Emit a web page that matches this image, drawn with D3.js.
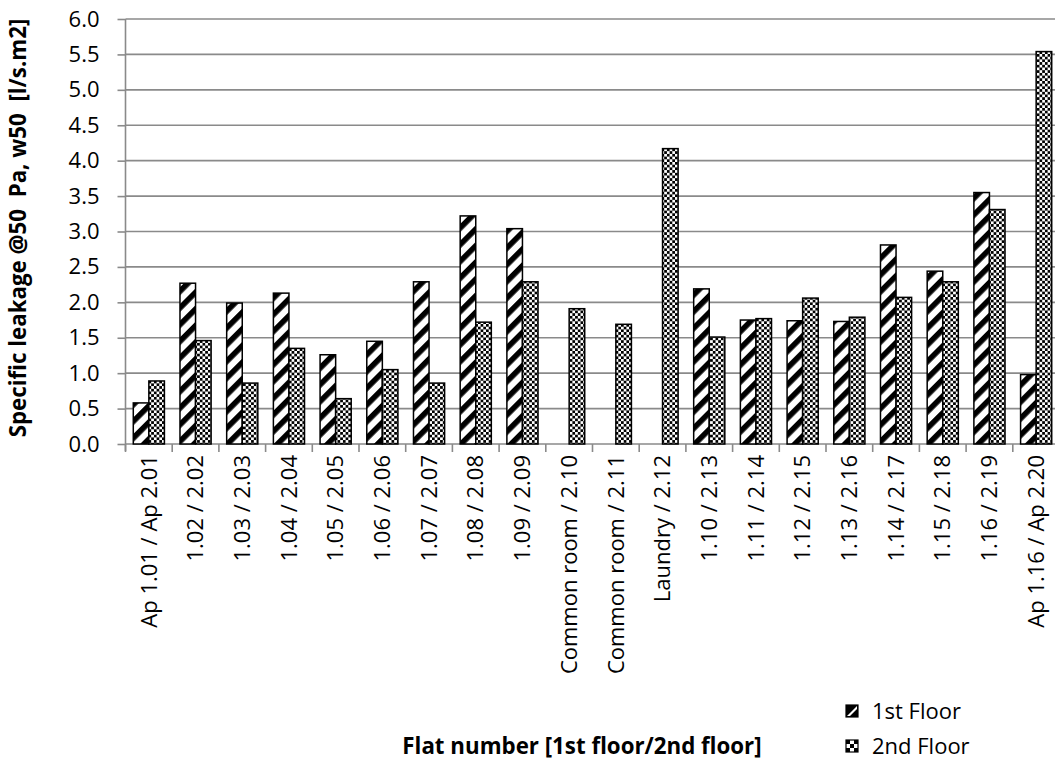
<!DOCTYPE html>
<html><head><meta charset="utf-8">
<script src="https://cdn.jsdelivr.net/npm/d3@7"></script>
<style>
html,body{margin:0;padding:0;background:#fff;}
svg{display:block;font-family:"Open Sans",sans-serif;}
</style></head>
<body>
<svg id="chart" width="1055" height="760"></svg>
<script>
const categories = ["Ap 1.01 / Ap 2.01","1.02 / 2.02","1.03 / 2.03","1.04 / 2.04","1.05 / 2.05","1.06 / 2.06","1.07 / 2.07","1.08 / 2.08","1.09 / 2.09","Common room / 2.10","Common room / 2.11","Laundry / 2.12","1.10 / 2.13","1.11 / 2.14","1.12 / 2.15","1.13 / 2.16","1.14 / 2.17","1.15 / 2.18","1.16 / 2.19","Ap 1.16 / Ap 2.20"];
const firstFloor  = [0.58,2.27,1.99,2.13,1.26,1.45,2.29,3.22,3.04,null,null,null,2.19,1.75,1.74,1.73,2.81,2.44,3.55,0.98];
const secondFloor = [0.89,1.46,0.86,1.35,0.64,1.05,0.86,1.72,2.29,1.91,1.69,4.17,1.51,1.77,2.06,1.79,2.07,2.29,3.31,5.54];
const yTicks = [0,0.5,1,1.5,2,2.5,3,3.5,4,4.5,5,5.5,6];
const seriesNames = ["1st Floor","2nd Floor"];
const yTitle = "Specific leakage @50  Pa, w50  [l/s.m2]";
const xTitle = "Flat number [1st floor/2nd floor]";

(function(){
const svg = d3.select("#chart");
const mLeft = 125.5, mRight = 1059.5, mTop = 19, mBottom = 444;

const defs = svg.append("defs");
const ps = defs.append("pattern").attr("id","stripe").attr("patternUnits","userSpaceOnUse")
  .attr("width",11.8).attr("height",11.8).attr("patternTransform","rotate(45)");
ps.append("rect").attr("width",11.8).attr("height",11.8).attr("fill","#fff");
ps.append("rect").attr("x",0).attr("width",5.6).attr("height",11.8).attr("fill","#000");
const pc = defs.append("pattern").attr("id","checker").attr("patternUnits","userSpaceOnUse")
  .attr("width",5.4).attr("height",5.4);
pc.append("rect").attr("width",5.4).attr("height",5.4).attr("fill","#fff");
pc.append("rect").attr("x",0).attr("y",0).attr("width",2.7).attr("height",2.7).attr("fill","#000");
pc.append("rect").attr("x",2.7).attr("y",2.7).attr("width",2.7).attr("height",2.7).attr("fill","#000");
const pls = defs.append("pattern").attr("id","stripeL").attr("patternUnits","userSpaceOnUse")
  .attr("x",846).attr("y",705).attr("width",12).attr("height",12);
pls.append("rect").attr("width",12).attr("height",12).attr("fill","#000");
pls.append("path").attr("d","M1,11 L11,1 L11,4 L4,11 Z").attr("fill","#fff");
const plc = defs.append("pattern").attr("id","checkerL").attr("patternUnits","userSpaceOnUse")
  .attr("x",846).attr("y",740).attr("width",8).attr("height",8);
plc.append("rect").attr("width",8).attr("height",8).attr("fill","#fff");
plc.append("rect").attr("width",4).attr("height",4).attr("fill","#000");
plc.append("rect").attr("x",4).attr("y",4).attr("width",4).attr("height",4).attr("fill","#000");

const x = d3.scaleBand().domain(categories).range([mLeft,mRight]).paddingInner(0).paddingOuter(0);
const x1 = d3.scaleBand().domain([0,1]).range([0,x.bandwidth()]).paddingInner(0).paddingOuter(0.5);
const y = d3.scaleLinear().domain([0,6]).range([mBottom,mTop]);

svg.append("g").selectAll("line").data(yTicks.slice(1)).join("line")
  .attr("x1",mLeft).attr("x2",1055).attr("y1",d=>y(d)).attr("y2",d=>y(d))
  .attr("stroke","#8a8a8a").attr("stroke-width",1.6);

const yAxis = svg.append("g").attr("transform",`translate(${mLeft},0)`)
  .call(d3.axisLeft(y).tickValues(yTicks).tickFormat(d3.format(".1f")).tickSize(8).tickPadding(18));
yAxis.select(".domain").attr("stroke","#8a8a8a").attr("stroke-width",1.6).attr("d",`M0,${mTop}V${mBottom+7}`);
yAxis.selectAll(".tick line").attr("stroke","#8a8a8a").attr("stroke-width",1.6);
yAxis.selectAll(".tick text").attr("font-size",22).attr("font-family","Open Sans").attr("fill","#000");

const xAxis = svg.append("g").attr("transform",`translate(0,${mBottom})`)
  .call(d3.axisBottom(x).tickSize(0).tickPadding(0));
xAxis.select(".domain").attr("stroke","#8a8a8a").attr("stroke-width",1.6).attr("d",`M${mLeft},0H1055`);
xAxis.selectAll(".tick text").attr("font-size",22).attr("font-family","Open Sans").attr("fill","#000")
  .attr("transform","rotate(-90)").attr("text-anchor","end").attr("x",-11).attr("y",0).attr("dy","0.35em");
svg.append("g").selectAll("line").data(categories).join("line")
  .attr("x1",d=>x(d)).attr("x2",d=>x(d)).attr("y1",mBottom).attr("y2",mBottom+8)
  .attr("stroke","#8a8a8a").attr("stroke-width",1.6);

const series = [firstFloor, secondFloor];
const fills = ["url(#stripe)","url(#checker)"];
series.forEach((vals,si)=>{
  svg.append("g").selectAll("rect").data(vals.map((v,i)=>({v,c:categories[i]})).filter(d=>d.v!=null)).join("rect")
    .attr("x",d=>x(d.c)+x1(si)).attr("width",x1.bandwidth())
    .attr("y",d=>y(d.v)).attr("height",d=>mBottom-y(d.v))
    .attr("fill",fills[si]).attr("stroke","#000").attr("stroke-width",1.5);
});

svg.append("text").attr("transform","translate(26,228) rotate(-90)")
  .attr("text-anchor","middle").attr("font-weight","bold").attr("font-size",22.3)
  .style("white-space","pre").text(yTitle);
svg.append("text").attr("x",582).attr("y",754).attr("text-anchor","middle")
  .attr("font-weight","bold").attr("font-size",22.3).text(xTitle);

const lg = svg.append("g");
const lfills = ["url(#stripeL)","url(#checkerL)"];
seriesNames.forEach((n,i)=>{
  const cy = 711 + i*35;
  lg.append("rect").attr("x",846).attr("y",cy-6).attr("width",12).attr("height",12)
    .attr("fill",lfills[i]).attr("stroke","#000").attr("stroke-width",1.2);
  lg.append("text").attr("x",872).attr("y",cy).attr("dy","0.36em").attr("font-size",22).text(n);
});
})();
</script>
</body></html>
